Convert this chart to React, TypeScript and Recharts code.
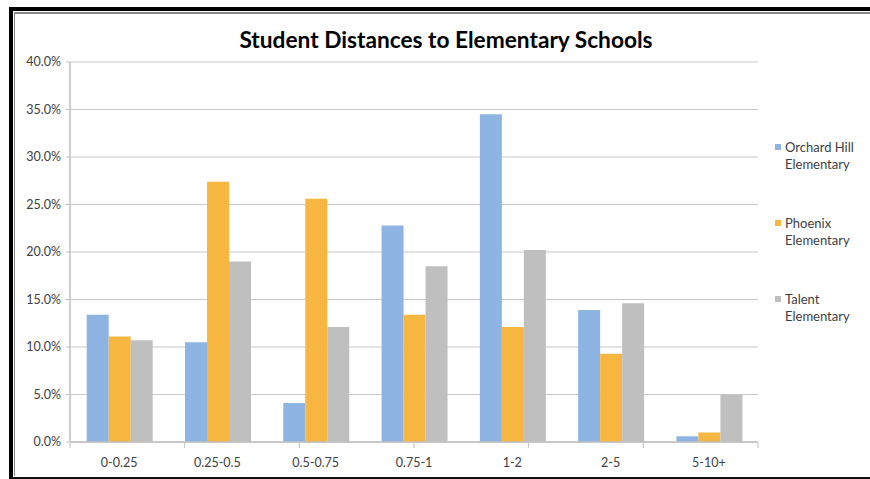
import React from 'react';
import { BarChart, Bar, XAxis, YAxis, CartesianGrid } from 'recharts';

const categories = ['0-0.25', '0.25-0.5', '0.5-0.75', '0.75-1', '1-2', '2-5', '5-10+'];
const orchardHill = [13.4, 10.5, 4.1, 22.8, 34.5, 13.9, 0.6];
const phoenix = [11.1, 27.4, 25.6, 13.4, 12.1, 9.3, 1.0];
const talent = [10.7, 19.0, 12.1, 18.5, 20.2, 14.6, 5.0];
const yTicks = [0, 5, 10, 15, 20, 25, 30, 35, 40];
// category boundaries, where the small x tick marks sit
const edgeTicks = categories.map((_, i) => i).concat(categories.length);

const series = [
  { key: 'orchard', name: ['Orchard Hill', 'Elementary'], color: '#8DB4E2' },
  { key: 'phoenix', name: ['Phoenix', 'Elementary'], color: '#F6B63F' },
  { key: 'talent', name: ['Talent', 'Elementary'], color: '#BFBFBF' },
];

const data = categories.map((c, i) => ({
  cat: c,
  orchard: orchardHill[i],
  phoenix: phoenix[i],
  talent: talent[i],
}));

const FONT = 'Lato, "Open Sans", sans-serif';

export default function App() {
  return (
    <div style={{ position: 'absolute', left: 0, top: 0, width: 870, height: 479, background: '#fff', overflow: 'hidden', fontFamily: FONT }}>
      {/* frame */}
      <div style={{ position: 'absolute', left: 9, top: 7, width: 900, height: 466, borderLeft: '4px solid #000', borderTop: '4px solid #000', borderBottom: '3px solid #111' }} />
      <div style={{ position: 'absolute', left: 14, top: 12, width: 900, height: 462, borderLeft: '1px solid #888', borderTop: '2px solid #888' }} />

      <div style={{ position: 'absolute', left: -4, top: 26, width: 900, textAlign: 'center', fontSize: 22.7, fontWeight: 700, color: '#000' }}>
        Student Distances to Elementary Schools
      </div>

      <div style={{ position: 'absolute', left: 0, top: 0 }}>
        <BarChart
          width={870}
          height={479}
          data={data}
          margin={{ top: 62, right: 112, left: 10, bottom: 0 }}
          barCategoryGap="17%"
          barGap={0}
        >
          <CartesianGrid vertical={false} stroke="#C8C8C8" strokeWidth={1.2} />
          <XAxis
            dataKey="cat"
            height={1}
            tickLine={false}
            axisLine={{ stroke: '#BFBFBF', strokeWidth: 1.5 }}
            tick={{ fill: '#404040', fontSize: 12.5, fontFamily: FONT }}
            tickMargin={10}
          />
          <XAxis
            xAxisId="edge"
            type="number"
            domain={[0, categories.length]}
            ticks={edgeTicks}
            interval={0}
            height={36}
            axisLine={false}
            tickFormatter={() => ''}
            tick={{ fontSize: 1 }}
            tickSize={5}
            tickLine={{ stroke: '#BFBFBF' }}
          />
          <YAxis
            width={60}
            domain={[0, 40]}
            ticks={yTicks}
            interval={0}
            tickFormatter={(v: number) => `${v.toFixed(1)}%`}
            tickSize={4}
            tickMargin={5}
            tickLine={{ stroke: '#BFBFBF' }}
            axisLine={{ stroke: '#BFBFBF', strokeWidth: 1.5 }}
            tick={{ fill: '#404040', fontSize: 12.5, fontFamily: FONT }}
          />
          {series.map((s) => (
            <Bar key={s.key} dataKey={s.key} fill={s.color} isAnimationActive={false} />
          ))}
        </BarChart>
      </div>

      <div style={{ position: 'absolute', left: 775, top: 139, fontSize: 13, lineHeight: '16.5px', color: '#404040' }}>
        {series.map((s, i) => (
          <div key={s.key} style={{ position: 'relative', paddingLeft: 10, marginBottom: i < series.length - 1 ? 43 : 0 }}>
            <span style={{ position: 'absolute', left: 0, top: 5, width: 6, height: 6, background: s.color }} />
            {s.name[0]}
            <br />
            {s.name[1]}
          </div>
        ))}
      </div>
    </div>
  );
}
